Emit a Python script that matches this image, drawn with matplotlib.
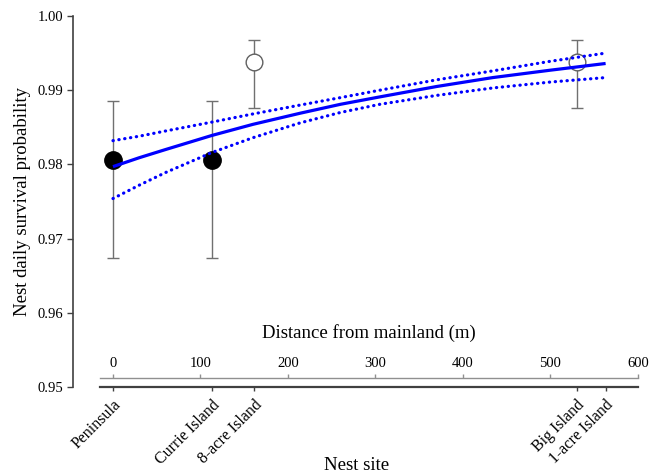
import matplotlib
matplotlib.use('Agg')
import matplotlib.pyplot as plt

plt.rcParams['font.family'] = ['Liberation Serif', 'DejaVu Serif']

# ---- data ----
sites = ['Peninsula', 'Currie Island', '8-acre Island', 'Big Island', '1-acre Island']
site_dist = [0, 113, 161, 530, 563]

# observed daily survival per site (filled = mainland-ish, open = islands)
obs_dist = [0, 113, 161, 530]
obs_dsr = [0.9806, 0.9806, 0.9938, 0.9938]
obs_lo = [0.9674, 0.9674, 0.9876, 0.9876]
obs_hi = [0.9886, 0.9886, 0.9968, 0.9968]
obs_filled = [True, True, False, False]

# model fit with 95% CI
fit_dist = [0, 30, 60, 113, 160, 214, 260, 305, 370, 434, 500, 563]
fit_dsr = [0.9797, 0.9809, 0.9820, 0.9839, 0.9854, 0.9869, 0.9881, 0.9891,
           0.9905, 0.9917, 0.9927, 0.9936]
fit_hi = [0.9832, 0.9838, 0.9845, 0.9857, 0.9868, 0.9880, 0.9890, 0.9900,
          0.9914, 0.9926, 0.9939, 0.9950]
fit_lo = [0.9754, 0.9772, 0.9789, 0.9816, 0.9836, 0.9856, 0.9870, 0.9881,
          0.9893, 0.9903, 0.9911, 0.9917]

dist_ticks = [0, 100, 200, 300, 400, 500, 600]
y_ticks = [0.95, 0.96, 0.97, 0.98, 0.99, 1.00]

AXIS_COLOR = '#404040'
ERR_COLOR = '#707070'
BLUE = '#0000FF'

fig = plt.figure(figsize=(6.6, 4.76), dpi=100)
ax = fig.add_axes([73 / 660, 89 / 476, 567 / 660, 371 / 476])
ax.set_xlim(-45.7, 602.3)
ax.set_ylim(0.95, 1.00)

# error bars + site markers
yerr = [[d - l for d, l in zip(obs_dsr, obs_lo)], [h - d for d, h in zip(obs_dsr, obs_hi)]]
ax.errorbar(obs_dist, obs_dsr, yerr=yerr, fmt='none', ecolor=ERR_COLOR,
            elinewidth=1, capsize=4.5, capthick=1, zorder=2)
for x, y, filled in zip(obs_dist, obs_dsr, obs_filled):
    if filled:
        ax.plot(x, y, 'o', ms=12.5, mfc='black', mec='black', zorder=3)
    else:
        ax.plot(x, y, 'o', ms=12, mfc='white', mec='#606060', mew=1, zorder=3)

# fitted curve + CI
ax.plot(fit_dist, fit_dsr, color=BLUE, lw=2.3, solid_capstyle='butt',
        solid_joinstyle='round', zorder=4)
for band in (fit_hi, fit_lo):
    ax.plot(fit_dist, band, color=BLUE, lw=2.3, ls=(0, (0.1, 1.75)),
            dash_capstyle='round', zorder=4)

# y axis
ax.set_yticks(y_ticks)
ax.set_yticklabels([f'{v:.2f}' for v in y_ticks], fontsize=10.5)
ax.tick_params(axis='y', direction='out', length=4, width=1, color=AXIS_COLOR, pad=3)
ax.set_ylabel('Nest daily survival probability', fontsize=13.5, labelpad=5)

for s in ['top', 'right']:
    ax.spines[s].set_visible(False)
ax.spines['left'].set_color(AXIS_COLOR)
ax.spines['left'].set_linewidth(1.2)

# bottom axis = nest sites
ax.spines['bottom'].set_bounds(-15, 600)
ax.spines['bottom'].set_color(AXIS_COLOR)
ax.spines['bottom'].set_linewidth(1.6)
ax.set_xticks(site_dist)
ax.set_xticklabels(sites, rotation=45, ha='right', rotation_mode='anchor', fontsize=11.5)
ax.tick_params(axis='x', direction='out', length=3, width=1, color=AXIS_COLOR, pad=4)
ax.text(0.5, -0.212, 'Nest site', transform=ax.transAxes, ha='center', va='center',
        fontsize=13.5)

# distance axis, just above the site axis
sec = ax.secondary_xaxis(9 / 371)
sec.set_alignment('top')
sec.set_xticks(dist_ticks)
sec.set_xticklabels([str(d) for d in dist_ticks], fontsize=10.5)
sec.spines['top'].set_bounds(-15, 600)
sec.spines['top'].set_color('#909090')
sec.spines['top'].set_linewidth(1)
sec.tick_params(axis='x', direction='out', length=3, width=1, color='#909090', pad=3)
ax.text(292.5, 54 / 371, 'Distance from mainland (m)', transform=ax.get_xaxis_transform(),
        ha='center', va='center', fontsize=13.5)

fig.savefig('out.png', dpi=100)
